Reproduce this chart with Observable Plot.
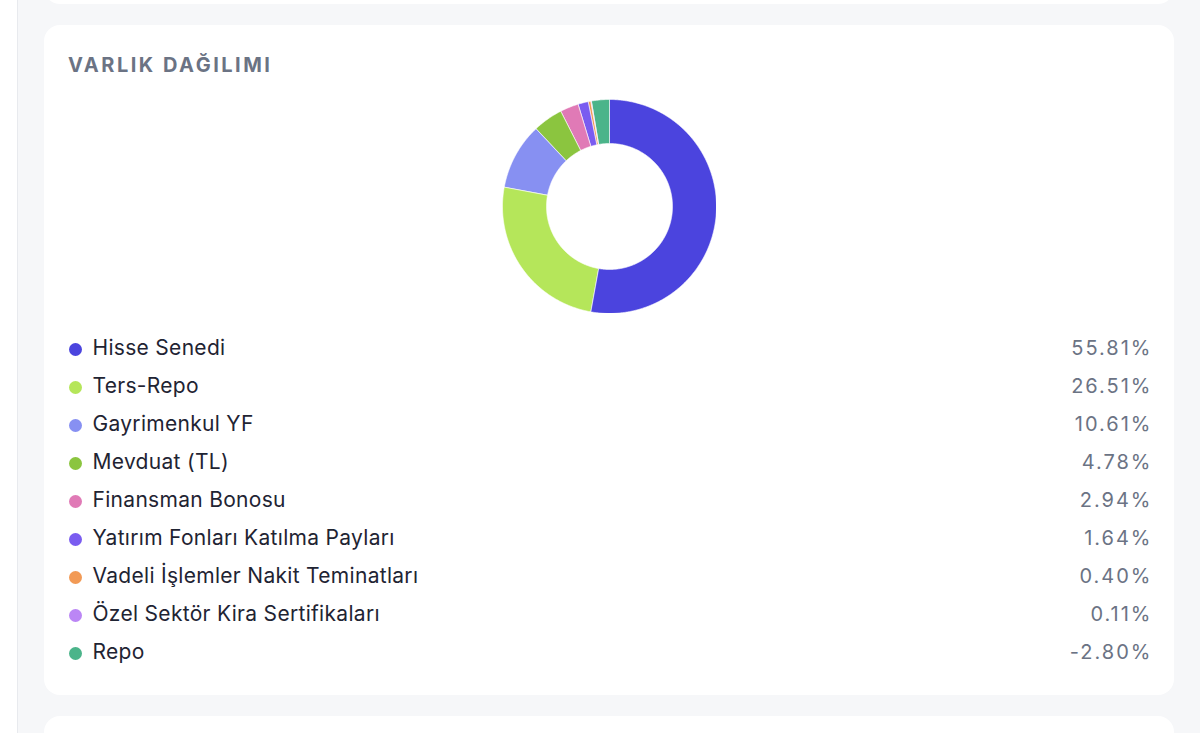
<!DOCTYPE html>
<html><head><meta charset="utf-8">
<script src="https://cdn.jsdelivr.net/npm/d3@7"></script>
<script src="https://cdn.jsdelivr.net/npm/@observablehq/plot@0.6"></script>
<style>
  html,body{margin:0;padding:0;}
  body{width:1200px;height:733px;background:#f6f7f9;position:relative;overflow:hidden;font-family:Inter,"Noto Sans",sans-serif;}
  .strip{position:absolute;left:0;top:0;width:17px;height:733px;background:#fff;border-right:1px solid #e8eaee;}
  .card{position:absolute;left:44px;width:1130px;background:#fff;border-radius:16px;}
  .title{position:absolute;left:68px;top:53px;font-size:20px;line-height:24px;font-weight:700;letter-spacing:2.5px;color:#6b7384;}
  #donut{position:absolute;left:502px;top:99px;}
  #legend{position:absolute;left:60px;top:320px;}
</style></head>
<body>
<div class="strip"></div>
<div class="card" style="top:-30px;height:34px;"></div>
<div class="card" style="top:25px;height:670px;"></div>
<div class="card" style="top:716px;height:60px;"></div>
<div class="title">VARLIK DAĞILIMI</div>
<div id="donut"></div>
<div id="legend"></div>
<script>
const categories = ["Hisse Senedi","Ters-Repo","Gayrimenkul YF","Mevduat (TL)","Finansman Bonosu","Yatırım Fonları Katılma Payları","Vadeli İşlemler Nakit Teminatları","Özel Sektör Kira Sertifikaları","Repo"];
const values = [55.81,26.51,10.61,4.78,2.94,1.64,0.40,0.11,-2.80];
const colors = ["#4b44de","#b5e65a","#8790f2","#8bc53f","#e07ab6","#7a5cf0","#f29a55","#bb86f5","#4bb48a"];
const valueLabels = ["55.81%","26.51%","10.61%","4.78%","2.94%","1.64%","0.40%","0.11%","-2.80%"];

const data = categories.map((c,i)=>({category:c, value:values[i], label:valueLabels[i], color:colors[i]}));

// donut slices from d3.pie (absolute values, clockwise from top)
const inner = 63/107;
const pie = d3.pie().sort(null).value(d=>Math.abs(d.value)).startAngle(0).endAngle(2*Math.PI);
const pt = (a,r)=>[Math.sin(a)*r, -Math.cos(a)*r];
function ring(a0,a1,r0,r1){
  const n = Math.max(2, Math.ceil((a1-a0)/(Math.PI/360)));
  const outer = d3.range(n+1).map(k=>pt(a0+(a1-a0)*k/n, r1));
  const inn = d3.range(n+1).map(k=>pt(a1-(a1-a0)*k/n, r0));
  const ringPts = outer.concat(inn); ringPts.push(ringPts[0]);
  return ringPts;
}
const slices = pie(data).map(s=>({type:"Feature", properties:s.data,
  geometry:{type:"Polygon", coordinates:[ring(s.startAngle,s.endAngle,inner,1)]}}));

const donut = Plot.plot({
  width:214, height:214, margin:0,
  projection:{type:"identity", domain:{type:"Polygon",coordinates:[d3.range(0,361,2).map(a=>pt(a*Math.PI/180,1))]}},
  color:{type:"identity"},
  marks:[
    Plot.geo(slices,{fill:d=>d.properties.color, stroke:"#ffffff", strokeWidth:0.6})
  ]
});
document.getElementById("donut").append(donut);

const legend = Plot.plot({
  width:1100, height:370,
  marginLeft:15, marginRight:10, marginTop:27, marginBottom:35,
  x:{domain:[0,1], axis:null},
  y:{type:"point", domain:categories, padding:0, axis:null},
  color:{type:"identity"},
  style:{fontFamily:"Inter, 'Noto Sans', sans-serif"},
  marks:[
    Plot.dot(data,{x:()=>0, y:"category", r:6.5, fill:"color"}),
    Plot.text(data,{x:()=>0, y:"category", text:"category", dx:17, dy:-1, textAnchor:"start", fontSize:21, fill:"#1f2433"}),
    Plot.text(data,{x:()=>1, y:"category", text:"label", dx:2, dy:-1, textAnchor:"end", fontSize:20, fill:"#6b7384"})
  ]
});
const textGroups = d3.select(legend).selectAll('g[aria-label="text"]').nodes();
if (textGroups[0]) textGroups[0].style.letterSpacing = "0.3px";
if (textGroups[1]) textGroups[1].style.letterSpacing = "2px";
document.getElementById("legend").append(legend);
</script>
</body></html>
